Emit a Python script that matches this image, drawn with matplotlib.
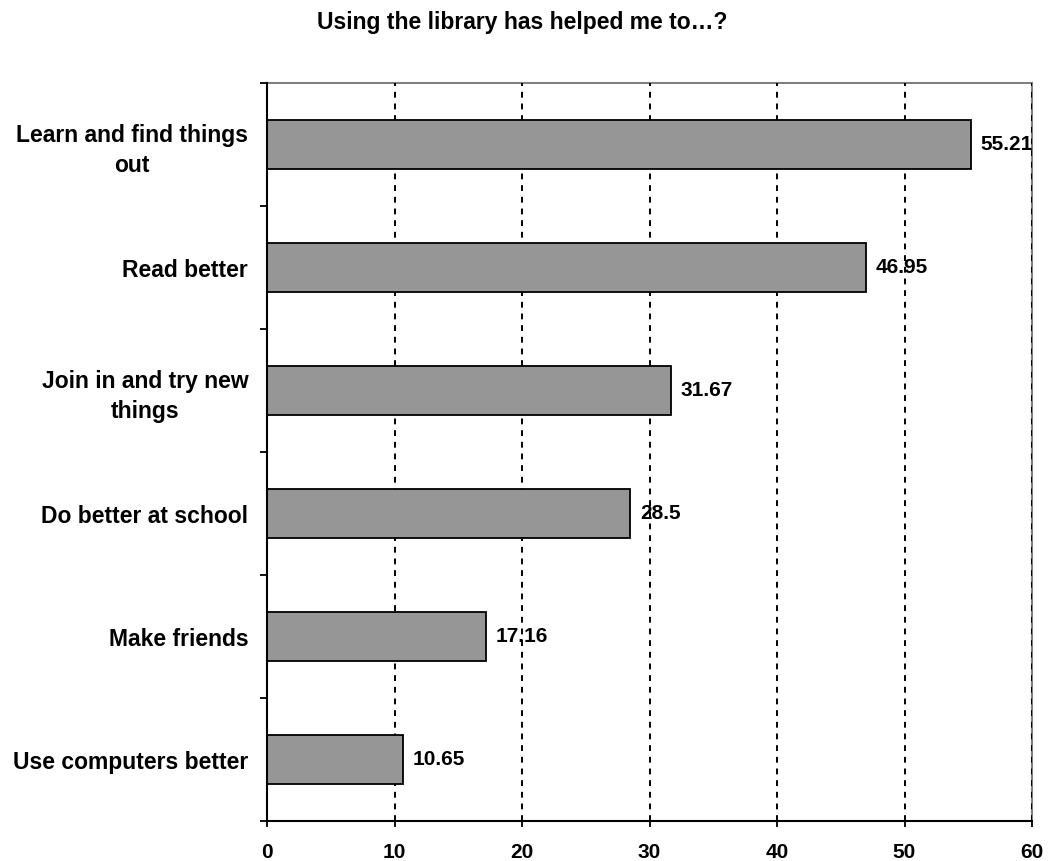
import matplotlib
matplotlib.use("Agg")
import matplotlib.pyplot as plt

# data (top to bottom)
categories = ["Learn and find things\nout",
              "Read better",
              "Join in and try new\nthings",
              "Do better at school",
              "Make friends",
              "Use computers better"]
values = [55.21, 46.95, 31.67, 28.5, 17.16, 10.65]
value_labels = ["55.21", "46.95", "31.67", "28.5", "17.16", "10.65"]
x_ticks = [0, 10, 20, 30, 40, 50, 60]

plt.rcParams["font.family"] = ["Liberation Sans", "DejaVu Sans"]
plt.rcParams["font.weight"] = "bold"

fig = plt.figure(figsize=(10.48, 8.61), dpi=100)
ax = fig.add_axes([267 / 1048, 1 - 821 / 861, (1032 - 267) / 1048, (821 - 83) / 861])

ypos = list(range(len(categories)))[::-1]

# dotted grid lines behind the bars (the one at 60 sits on the grey border)
for x in x_ticks[1:]:
    ax.axvline(x, color="black", linestyle=(0, (3, 3)), linewidth=1.4, zorder=1)

ax.barh(ypos, values, height=0.4, color="#969696", edgecolor="black",
        linewidth=1.3, zorder=2)

for y, v, lab in zip(ypos, values, value_labels):
    ax.annotate(lab, (v, y), xytext=(7, 0), textcoords="offset points",
                va="center", ha="left", fontsize=15, fontweight="bold", zorder=3)

ax.set_xlim(0, 60)
ax.set_ylim(-0.5, len(categories) - 0.5)
ax.set_xticks(x_ticks)
ax.set_xticklabels([str(t) for t in x_ticks], fontsize=15, fontweight="bold")

# category labels at bar centres, ticks between categories
ax.set_yticks([y + 0.5 for y in range(len(categories))] + [-0.5])
ax.set_yticklabels([])
ax.set_yticks(ypos, minor=True)
ax.set_yticklabels(categories, minor=True, fontsize=16.5, fontweight="bold",
                   ha="right", multialignment="center", linespacing=1.4)
ax.tick_params(axis="y", which="minor", length=0, pad=13.5)
ax.tick_params(axis="y", which="major", length=5, width=1.3, direction="out")
ax.tick_params(axis="x", length=4.5, width=1.3, direction="out", pad=11.5)

for side in ["top", "right"]:
    ax.spines[side].set_color("#808080")
    ax.spines[side].set_linewidth(1.5)
    ax.spines[side].set_zorder(0.5)
for side in ["left", "bottom"]:
    ax.spines[side].set_linewidth(1.5)
    ax.spines[side].set_zorder(4)

fig.text(522 / 1048, 1 - 22 / 861, "Using the library has helped me to\u2026?",
         ha="center", va="center", fontsize=16.5, fontweight="bold")

fig.savefig("out.png", dpi=100)
